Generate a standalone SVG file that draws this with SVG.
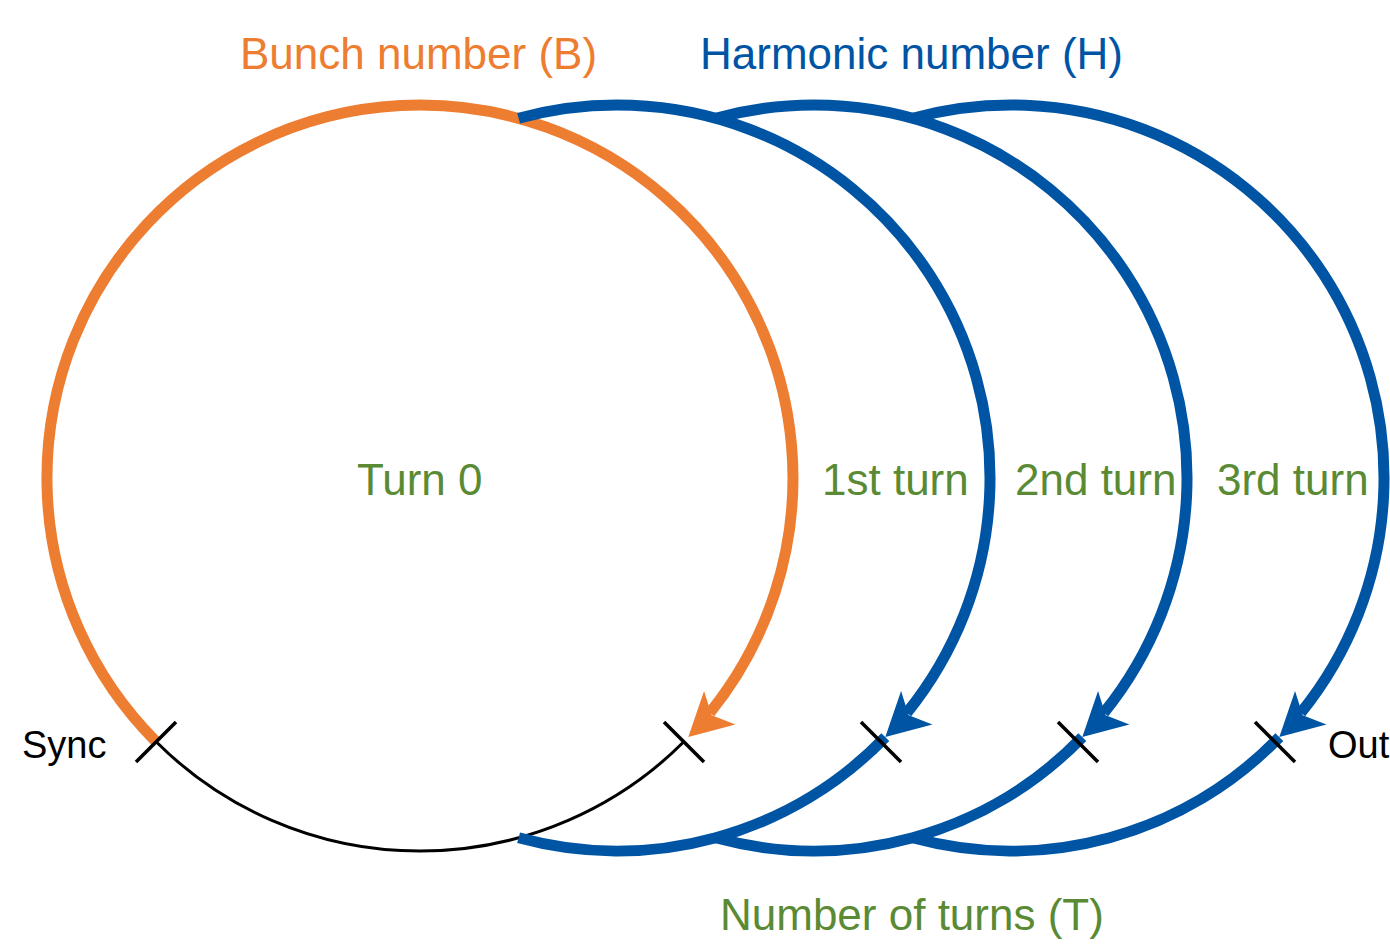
<svg xmlns="http://www.w3.org/2000/svg" xmlns:xlink="http://www.w3.org/1999/xlink" width="1390" height="945" viewBox="0 0 1390 945">
<style>
  .orange{fill:none;stroke:#ED7D31;stroke-width:11}
  .blue{fill:none;stroke:#0054A4;stroke-width:11}
  .black{fill:none;stroke:#000;stroke-width:3}
  .tick{stroke:#000;stroke-width:3.5;fill:none}
  .ahO{fill:#ED7D31}
  .ahB{fill:#0054A4}
  text{font-family:"Liberation Sans",Arial,sans-serif}
  .lbl{font-size:44px}
  .small{font-size:38px;fill:#000}
  .green{fill:#5A8A34}
</style>
<defs>
  <path id="ah" d="M0,0 L-43,-23 L-32,0 L-43,23 Z"/>
</defs>
<rect width="1390" height="945" fill="#fff"/>
<g id="connectors">
  <g id="turn0">
    <path class="orange" d="M156.2,741.8 A373,373 0 1 1 709.9,712.7"/>
    <path class="black" d="M683.8,741.8 A373,373 0 0 1 156.2,741.8"/>
    <use xlink:href="#ah" class="ahO" transform="translate(688.3,737.1) rotate(137)"/>
  </g>
  <g id="turn1">
    <path class="blue" d="M518.6,118.2 A373,373 0 0 1 906.9,712.7 M885.3,737.1 A373,373 0 0 1 518.6,837.8"/>
    <use xlink:href="#ah" class="ahB" transform="translate(885.3,737.1) rotate(137)"/>
  </g>
  <g id="turn2">
    <path class="blue" d="M715.6,118.2 A373,373 0 0 1 1103.9,712.7 M1082.3,737.1 A373,373 0 0 1 715.6,837.8"/>
    <use xlink:href="#ah" class="ahB" transform="translate(1082.3,737.1) rotate(137)"/>
  </g>
  <g id="turn3">
    <path class="blue" d="M912.6,118.2 A373,373 0 0 1 1300.9,712.7 M1279.3,737.1 A373,373 0 0 1 912.6,837.8"/>
    <use xlink:href="#ah" class="ahB" transform="translate(1279.3,737.1) rotate(137)"/>
  </g>
</g>
<g id="marks">
  <line class="tick" x1="176" y1="722" x2="136" y2="762"/>
  <line class="tick" x1="664" y1="722" x2="704" y2="762"/>
  <line class="tick" x1="861" y1="722" x2="901" y2="762"/>
  <line class="tick" x1="1058" y1="722" x2="1098" y2="762"/>
  <line class="tick" x1="1255" y1="722" x2="1295" y2="762"/>
</g>
<g id="labels">
  <text class="lbl" x="240" y="69" fill="#ED7D31">Bunch number (B)</text>
  <text class="lbl" x="700" y="69" fill="#0054A4">Harmonic number (H)</text>
  <text class="lbl green" x="357" y="495">Turn 0</text>
  <text class="lbl green" x="822" y="495">1st turn</text>
  <text class="lbl green" x="1015" y="495">2nd turn</text>
  <text class="lbl green" x="1217" y="495">3rd turn</text>
  <text class="lbl green" x="720" y="930">Number of turns (T)</text>
  <text class="small" x="22" y="758">Sync</text>
  <text class="small" x="1328" y="758">Out</text>
</g>
</svg>
